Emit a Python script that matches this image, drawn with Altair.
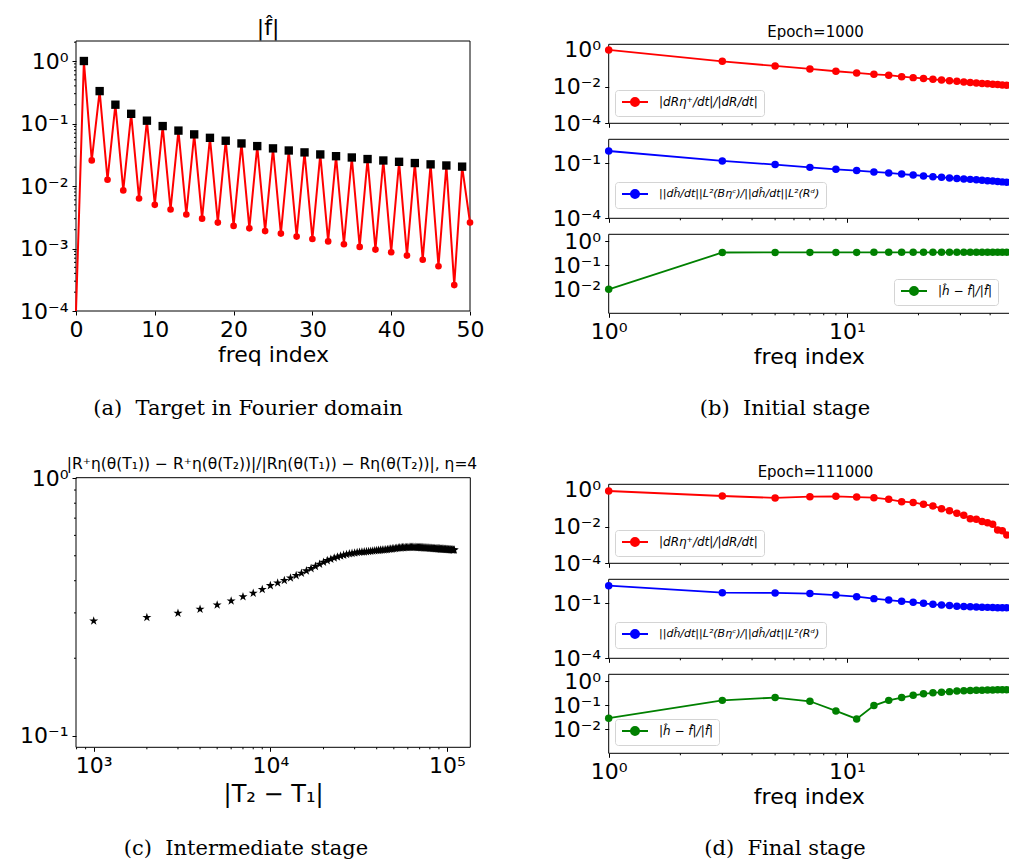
import math
import altair as alt
import pandas as pd

# ---------------- data ----------------
# (a) |f^| versus frequency index 0..50
a_index = list(range(51))
a_value = [1e-5, 1.0, 0.0257, 0.33, 0.0126, 0.20, 0.0085, 0.143, 0.0063, 0.111,
           0.0050, 0.091, 0.0042, 0.077, 0.0035, 0.067, 0.0030, 0.059, 0.0026, 0.053,
           0.0023, 0.048, 0.0021, 0.0435, 0.0019, 0.040, 0.00173, 0.037, 0.00155, 0.0345,
           0.00142, 0.032, 0.0013, 0.030, 0.00117, 0.0286, 0.00106, 0.027, 0.00096, 0.0256,
           0.00087, 0.0244, 0.00077, 0.0233, 0.00066, 0.0222, 0.00052, 0.0213, 0.00026, 0.0204,
           0.0026]

# (b)/(d) shared frequency indices
stage_freq = list(range(1, 48, 2))
b_red = [1.0, 0.24, 0.134, 0.092, 0.069, 0.056, 0.047, 0.042, 0.035, 0.031, 0.028, 0.025,
         0.023, 0.021, 0.0195, 0.018, 0.0168, 0.0158, 0.015, 0.0142, 0.0135, 0.0129, 0.0124, 0.012]
b_blue = [0.47, 0.134, 0.085, 0.060, 0.047, 0.040, 0.034, 0.030, 0.026, 0.023, 0.0204, 0.0187,
          0.0173, 0.016, 0.0150, 0.0141, 0.0133, 0.0126, 0.0119, 0.0113, 0.0107, 0.0102, 0.0097, 0.0092]
b_green = [0.010, 0.340, 0.342, 0.343, 0.344, 0.344, 0.345, 0.345, 0.345, 0.345, 0.345, 0.345,
           0.346, 0.346, 0.346, 0.346, 0.346, 0.346, 0.346, 0.346, 0.346, 0.346, 0.346, 0.346]
d_red = [0.88, 0.47, 0.37, 0.43, 0.45, 0.41, 0.38, 0.31, 0.23, 0.21, 0.166, 0.134,
         0.095, 0.074, 0.053, 0.042, 0.027, 0.025, 0.019, 0.0165, 0.0135, 0.0066, 0.006, 0.0035]
d_blue = [0.92, 0.38, 0.37, 0.34, 0.28, 0.23, 0.18, 0.15, 0.129, 0.113, 0.100, 0.088,
          0.081, 0.075, 0.069, 0.066, 0.064, 0.062, 0.061, 0.060, 0.059, 0.058, 0.057, 0.057]
d_green = [0.029, 0.16, 0.21, 0.147, 0.058, 0.027, 0.097, 0.16, 0.21, 0.26, 0.30, 0.33,
           0.35, 0.37, 0.39, 0.40, 0.41, 0.42, 0.425, 0.43, 0.435, 0.44, 0.44, 0.445]

# (c) ratio versus |T2 - T1|
c_gap = list(range(1000, 111000, 1000))
c_ratio = [0.279, 0.288, 0.299, 0.310, 0.322, 0.334, 0.347, 0.358, 0.370, 0.383,
           0.392, 0.401, 0.410, 0.419, 0.428, 0.437, 0.446, 0.455, 0.464, 0.472,
           0.479, 0.485, 0.490, 0.495, 0.499, 0.503, 0.506, 0.509, 0.511, 0.513,
           0.515, 0.516, 0.517, 0.518, 0.519, 0.520, 0.521, 0.522, 0.523, 0.524,
           0.525, 0.526, 0.527, 0.527, 0.528, 0.529, 0.530, 0.531, 0.532, 0.533,
           0.534, 0.535, 0.536, 0.537, 0.537, 0.538, 0.538, 0.539, 0.539, 0.539,
           0.540, 0.540, 0.540, 0.540, 0.540, 0.540, 0.539, 0.539, 0.539, 0.539,
           0.538, 0.538, 0.538, 0.537, 0.537, 0.537, 0.536, 0.536, 0.536, 0.535,
           0.535, 0.535, 0.534, 0.534, 0.534, 0.533, 0.533, 0.533, 0.532, 0.532,
           0.532, 0.531, 0.531, 0.531, 0.530, 0.530, 0.530, 0.530, 0.529, 0.529,
           0.529, 0.529, 0.528, 0.528, 0.528, 0.528, 0.527, 0.527, 0.527, 0.527]

L_RED = "|dRη⁺/dt|/|dR/dt|"
L_BLUE = "||dĥ/dt||L²(Bηᶜ)/||dĥ/dt||L²(Rᵈ)"
L_GREEN = "|ĥ − f\u0302|/|f\u0302|"

TITLE_A = "|f\u0302|"
TITLE_C = "|R⁺η(θ(T₁)) − R⁺η(θ(T₂))|/|Rη(θ(T₁)) − Rη(θ(T₂))|, η=4"

# ---------------- layout helpers ----------------
W, H = 1001, 851
FONT = "DejaVu Sans"
SERIF = "DejaVu Serif"
SUP = str.maketrans("-0123456789", "⁻⁰¹²³⁴⁵⁶⁷⁸⁹")
STAR = ("M0,-1L0.2245,-0.309L0.951,-0.309L0.363,0.118L0.588,0.809L0,0.382"
        "L-0.588,0.809L-0.363,0.118L-0.951,-0.309L-0.2245,-0.309Z")
LEG_SYMBOL = "M-1,0L4.2,0M0.8,0A0.8,0.8,0,1,1,2.4,0A0.8,0.8,0,1,1,0.8,0Z"
NB = "\u00a0"


def log_minors(lo, hi):
    out = []
    for e in range(math.floor(math.log10(lo)), math.ceil(math.log10(hi)) + 1):
        for m in range(2, 10):
            v = m * 10.0 ** e
            if lo <= v <= hi:
                out.append(v)
    return out


def axis_kw(orient, offset, values, labels=True, title=None, fs=22, expr=None,
            title_fs=22, title_pad=4):
    kw = dict(orient=orient, offset=offset, values=values,
              labels=labels, labelOverlap=False, labelFlush=False, labelFontSize=fs,
              labelFont=FONT, labelColor="black", labelPadding=4,
              tickSize=4, tickColor="black", tickWidth=1, domain=False, grid=False, title=title)
    if expr:
        kw["labelExpr"] = expr
    if title:
        kw.update(titleFont=FONT, titleFontSize=title_fs, titleFontWeight="normal",
                  titleColor="black", titlePadding=title_pad)
    return alt.Axis(**kw)


def log_axis(orient, offset, majors, labels=True, title=None, fs=22, title_fs=22, title_pad=4):
    expr = " : ".join(
        f"datum.value == {v!r} ? '10{str(round(math.log10(v))).translate(SUP)}'" for v in majors
    ) + " : ''"
    return axis_kw(orient, offset, majors, labels, title, fs, expr, title_fs, title_pad)


def minor_ticks(values, xs, ys, xaxis, yaxis, orient, pos):
    base = alt.Chart(pd.DataFrame({"m": values})).mark_rule(color="black", strokeWidth=1)
    if orient == "left":
        return base.encode(y=alt.Y("m:Q", scale=ys, axis=yaxis),
                           x=alt.value(pos - 2), x2=alt.value(pos))
    return base.encode(x=alt.X("m:Q", scale=xs, axis=xaxis),
                       y=alt.value(pos), y2=alt.value(pos + 2))


def frame(xs, ys, xaxis, yaxis, x0, x1, y0, y1):
    return alt.Chart(pd.DataFrame({"z": [0]})).mark_rect(
        fillOpacity=0, stroke="black", strokeWidth=1
    ).encode(
        x=alt.XDatum(x0, type="quantitative", scale=xs, axis=xaxis),
        x2=alt.X2Datum(x1),
        y=alt.YDatum(y0, type="quantitative", scale=ys, axis=yaxis),
        y2=alt.Y2Datum(y1),
    )


# ---------------- (a) ----------------
xa = alt.Scale(domain=[0, 50], range=[68, 462], nice=False, zero=False)
ya = alt.Scale(type="log", domain=[1e-4, 2.09], range=[303, 33], nice=False, clamp=True)
df_a = pd.DataFrame({"k": a_index, "v": a_value})
a_yaxis = log_axis("left", -68, [1e-4, 1e-3, 1e-2, 1e-1, 1.0])
a_xaxis = axis_kw("bottom", 303 - H, [0, 10, 20, 30, 40, 50], title="freq index")
base_a = alt.Chart(df_a)
enc_a = dict(x=alt.X("k:Q", scale=xa, axis=a_xaxis), y=alt.Y("v:Q", scale=ya, axis=a_yaxis))
panel_a = alt.layer(
    frame(xa, ya, a_xaxis, a_yaxis, 0, 50, 1e-4, 2.09),
    minor_ticks(log_minors(1e-4, 2.09), xa, ya, a_xaxis, a_yaxis, "left", 68),
    base_a.mark_line(color="red", strokeWidth=2).encode(**enc_a),
    base_a.transform_filter("datum.v >= 0.0001").mark_point(
        shape="circle", filled=True, size=44, color="red", opacity=1).encode(**enc_a),
    base_a.transform_filter("datum.k % 2 == 1").mark_point(
        shape="square", filled=True, size=70, color="black", opacity=1).encode(**enc_a),
)

# ---------------- (c) ----------------
xc = alt.Scale(type="log", domain=[794, 1.355e5], range=[68, 462.3], nice=False)
yc = alt.Scale(type="log", domain=[0.0902, 1.005], range=[739.3, 469.7], nice=False)
c_xaxis = log_axis("bottom", 739.3 - H, [1e3, 1e4, 1e5], title="|T₂ − T₁|",
                   title_fs=24, title_pad=6)
c_yaxis = log_axis("left", -68, [0.1, 1.0])
df_c = pd.DataFrame({"g": c_gap, "r": c_ratio})
panel_c = alt.layer(
    frame(xc, yc, c_xaxis, c_yaxis, 794, 1.355e5, 0.0902, 1.005),
    minor_ticks(log_minors(794, 1.355e5), xc, yc, c_xaxis, c_yaxis, "bottom", 739.3),
    minor_ticks(log_minors(0.0902, 1.005), xc, yc, c_xaxis, c_yaxis, "left", 68),
    alt.Chart(df_c).mark_point(shape=STAR, filled=True, size=90, color="black", opacity=1).encode(
        x=alt.X("g:Q", scale=xc, axis=c_xaxis),
        y=alt.Y("r:Q", scale=yc, axis=c_yaxis),
    ),
)

# ---------------- (b) and (d) ----------------
XR = [600.7, 1001]
XD = [1, 48]


def stage_plot(vals, color, label, top, bottom, ydom, ymajors, xlabels, leg_xy, leg_fs=12):
    df = pd.DataFrame({"k": stage_freq, "v": vals, "s": [label] * len(vals)})
    xs = alt.Scale(type="log", domain=XD, range=XR, nice=False)
    ys = alt.Scale(type="log", domain=ydom, range=[bottom, top], nice=False)
    xaxis = log_axis("bottom", bottom - H, [1.0, 10.0], labels=xlabels,
                     title="freq index" if xlabels else None)
    yaxis = log_axis("left", -XR[0], ymajors)
    legend = alt.Legend(orient="none", legendX=leg_xy[0], legendY=leg_xy[1], title=None,
                        symbolType=LEG_SYMBOL, symbolSize=100, symbolStrokeWidth=2,
                        symbolFillColor=color, labelFont=FONT, labelFontSize=leg_fs,
                        labelFontStyle="italic", labelColor="black", labelOffset=26,
                        labelLimit=500, fillColor="white", strokeColor="#d4d4d4",
                        cornerRadius=3, padding=6)
    enc = dict(x=alt.X("k:Q", scale=xs, axis=xaxis), y=alt.Y("v:Q", scale=ys, axis=yaxis))
    return alt.layer(
        frame(xs, ys, xaxis, yaxis, 1, 60, ydom[0], ydom[1]),
        minor_ticks(log_minors(1, 48), xs, ys, xaxis, yaxis, "bottom", bottom),
        alt.Chart(df).mark_line(strokeWidth=1.8).encode(
            color=alt.Color("s:N", scale=alt.Scale(domain=[label], range=[color]), legend=legend),
            **enc,
        ),
        alt.Chart(df).mark_point(shape="circle", filled=True, size=56, color=color, opacity=1).encode(**enc),
    )


panels = [
    panel_a,
    panel_c,
    stage_plot(b_red, "#ff0000", L_RED, 36.3, 115.3, [1e-4, 2.04], [1e-4, 1e-2, 1.0], False, (607, 82)),
    stage_plot(b_blue, "#0000ff", L_BLUE, 131.3, 210.3, [1e-4, 2.04], [1e-4, 1e-1], False, (607, 174), 11),
    stage_plot(b_green, "#008000", L_GREEN, 226.3, 305.3, [1e-3, 1.95], [1e-2, 1e-1, 1.0], True, (886, 271)),
    stage_plot(d_red, "#ff0000", L_RED, 476.3, 555.3, [1e-4, 2.04], [1e-4, 1e-2, 1.0], False, (607, 522)),
    stage_plot(d_blue, "#0000ff", L_BLUE, 571.3, 650.3, [1e-4, 2.04], [1e-4, 1e-1], False, (607, 614), 11),
    stage_plot(d_green, "#008000", L_GREEN, 666.3, 745.3, [1e-3, 1.95], [1e-2, 1e-1, 1.0], True, (607, 711)),
]


def note(text, x, y, size, font=FONT, style="normal"):
    return alt.Chart(pd.DataFrame({"z": [0]})).mark_text(
        text=text, font=font, fontSize=size, fontStyle=style, align="center",
        baseline="alphabetic", color="black"
    ).encode(x=alt.value(x), y=alt.value(y))


notes = [
    note(TITLE_A, 260, 27, 22),
    note("Epoch=1000", 807.5, 29.3, 15),
    note("Epoch=111000", 807.5, 469.3, 15),
    note(TITLE_C, 264, 461, 15.5),
    note(f"(a){NB}{NB}Target in Fourier domain", 240, 407, 21, SERIF),
    note(f"(b){NB}{NB}Initial stage", 777, 407, 21, SERIF),
    note(f"(c){NB}{NB}Intermediate stage", 238, 847, 21, SERIF),
    note(f"(d){NB}{NB}Final stage", 777, 847, 21, SERIF),
]

chart = alt.layer(*panels, *notes).resolve_scale(
    x="independent", y="independent", color="independent"
).resolve_axis(
    x="independent", y="independent"
).resolve_legend(
    color="independent"
).properties(
    width=W, height=H, padding=0, autosize=alt.AutoSizeParams(type="none")
).configure_view(strokeWidth=0)

chart.save("out.html", embed_options={"renderer": "svg", "actions": False})
